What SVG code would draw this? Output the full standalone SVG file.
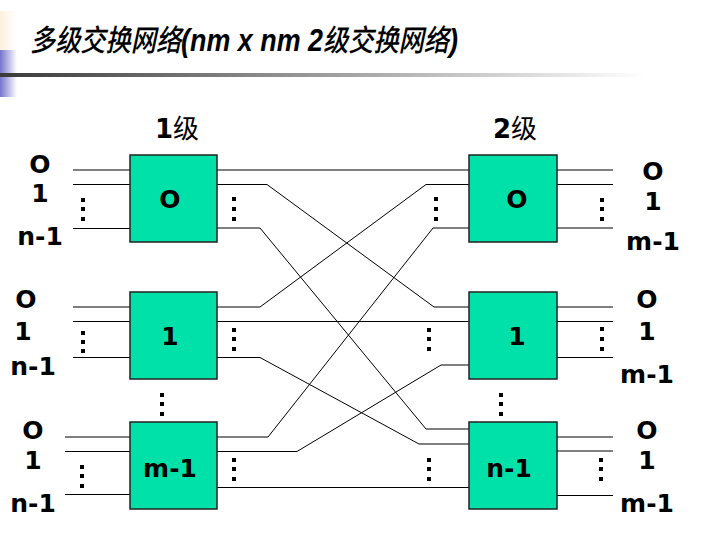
<svg xmlns="http://www.w3.org/2000/svg" width="702" height="533" viewBox="0 0 702 533">
<defs>
<linearGradient id="bar" x1="0" y1="0" x2="1" y2="0"><stop offset="0" stop-color="#3a3a3a"/><stop offset="0.45" stop-color="#9a9a9a"/><stop offset="0.92" stop-color="#ffffff"/></linearGradient>
<linearGradient id="blue" x1="0" y1="0" x2="1" y2="0"><stop offset="0" stop-color="#7474cc"/><stop offset="1" stop-color="#ffffff"/></linearGradient>
<linearGradient id="cream" x1="0" y1="0" x2="1" y2="0"><stop offset="0" stop-color="#fdf0dc"/><stop offset="1" stop-color="#ffffff"/></linearGradient>
</defs>
<style>
.box{fill:#00e1a9;stroke:#222;stroke-width:1.5}
.ln{fill:none;stroke:#000;stroke-width:1}
.lbl{font-family:"DejaVu Sans",Verdana,sans-serif;font-weight:bold;font-size:25px;fill:#000;text-anchor:middle}
.dot{fill:#000}
.cjk{font-family:"Noto Sans CJK SC",sans-serif}
.tc{font-family:"Noto Sans CJK SC",sans-serif;font-size:30px;font-weight:500}
.tl{font-family:"Liberation Sans",Arial,sans-serif;font-weight:bold;font-size:32px}
</style>
<rect width="702" height="533" fill="#fff"/>
<rect x="0" y="11" width="16" height="39" fill="url(#cream)"/>
<rect x="0" y="50" width="17" height="47" fill="url(#blue)"/>
<rect x="0" y="73" width="702" height="4" fill="url(#bar)"/>
<g id="title">
<text transform="translate(30,51) scale(0.84,1)" font-style="italic"><tspan class="tc">多级交换网络</tspan><tspan class="tl">(nm x nm 2</tspan><tspan class="tc">级交换网络</tspan><tspan class="tl">)</tspan></text>
</g>
<g id="stage-labels">
<text x="155" y="138" font-size="26"><tspan font-family="DejaVu Sans,sans-serif" font-weight="bold">1</tspan><tspan class="cjk">级</tspan></text>
<text x="493" y="138" font-size="26"><tspan font-family="DejaVu Sans,sans-serif" font-weight="bold">2</tspan><tspan class="cjk">级</tspan></text>
</g>
<g id="io-lines">
<path class="ln" d="M73,170H130M73,184.5H130M73,228.5H130M73,307H130M73,321.5H130M73,357.5H130M65,437H130M65,451.5H130M65,494.5H130"/>
<path class="ln" d="M557,170H613M557,184.5H613M557,228H613M557,307H613M557,321.5H613M557,357.5H613M557,437H613M557,451H613M557,495.5H613"/>
</g>
<g id="connectors">
<path class="ln" d="M217,170H469"/>
<path class="ln" d="M217,184.5H267L434,307H469"/>
<path class="ln" d="M217,228H260L426,429H469"/>
<path class="ln" d="M217,307H260L426,184.5H469"/>
<path class="ln" d="M217,321.5H469"/>
<path class="ln" d="M217,357.5H260L419,444H469"/>
<path class="ln" d="M217,437H268L433,228H469"/>
<path class="ln" d="M217,451.5H297L441,365H469"/>
<path class="ln" d="M217,487.5H469"/>
</g>
<g id="node-l0"><rect class="box" x="130" y="155" width="87" height="87"/><text class="lbl" x="170" y="208">O</text></g>
<g id="node-l1"><rect class="box" x="130" y="292" width="87" height="87"/><text class="lbl" x="170" y="345">1</text></g>
<g id="node-lm"><rect class="box" x="130" y="422" width="87" height="87"/><text class="lbl" x="170" y="477">m-1</text></g>
<g id="node-r0"><rect class="box" x="469" y="155" width="88" height="87"/><text class="lbl" x="517" y="208">O</text></g>
<g id="node-r1"><rect class="box" x="469" y="292" width="88" height="87"/><text class="lbl" x="517" y="345">1</text></g>
<g id="node-rn"><rect class="box" x="469" y="422" width="88" height="87"/><text class="lbl" x="509" y="477">n-1</text></g>
<g id="port-labels">
<text class="lbl" x="40" y="173">O</text><text class="lbl" x="40" y="202">1</text><text class="lbl" x="40" y="245">n-1</text>
<text class="lbl" x="26" y="308">O</text><text class="lbl" x="23" y="340">1</text><text class="lbl" x="33" y="375">n-1</text>
<text class="lbl" x="33" y="439">O</text><text class="lbl" x="33" y="469">1</text><text class="lbl" x="33" y="512">n-1</text>
<text class="lbl" x="653" y="180">O</text><text class="lbl" x="653" y="210">1</text><text class="lbl" x="653" y="250">m-1</text>
<text class="lbl" x="647" y="308">O</text><text class="lbl" x="647" y="340">1</text><text class="lbl" x="647" y="383">m-1</text>
<text class="lbl" x="647" y="439">O</text><text class="lbl" x="647" y="469">1</text><text class="lbl" x="647" y="512">m-1</text>
</g>
<g id="ellipses" class="dot">
<rect x="81" y="198" width="4" height="4"/><rect x="81" y="207" width="4" height="4"/><rect x="81" y="217" width="4" height="4"/>
<rect x="232" y="197" width="4" height="4"/><rect x="232" y="207" width="4" height="4"/><rect x="232" y="217" width="4" height="4"/>
<rect x="434" y="197" width="4" height="4"/><rect x="434" y="207" width="4" height="4"/><rect x="434" y="217" width="4" height="4"/>
<rect x="600" y="198" width="4" height="4"/><rect x="600" y="207" width="4" height="4"/><rect x="600" y="217" width="4" height="4"/>
<rect x="81" y="331" width="4" height="4"/><rect x="81" y="340" width="4" height="4"/><rect x="81" y="349" width="4" height="4"/>
<rect x="232" y="328" width="4" height="4"/><rect x="232" y="337" width="4" height="4"/><rect x="232" y="347" width="4" height="4"/>
<rect x="427" y="328" width="4" height="4"/><rect x="427" y="337" width="4" height="4"/><rect x="427" y="347" width="4" height="4"/>
<rect x="600" y="327" width="4" height="4"/><rect x="600" y="337" width="4" height="4"/><rect x="600" y="347" width="4" height="4"/>
<rect x="160" y="393" width="4" height="4"/><rect x="160" y="402" width="4" height="4"/><rect x="160" y="412" width="4" height="4"/>
<rect x="499" y="393" width="4" height="4"/><rect x="499" y="402" width="4" height="4"/><rect x="499" y="412" width="4" height="4"/>
<rect x="80" y="465" width="4" height="4"/><rect x="80" y="474" width="4" height="4"/><rect x="80" y="484" width="4" height="4"/>
<rect x="232" y="458" width="4" height="4"/><rect x="232" y="467" width="4" height="4"/><rect x="232" y="477" width="4" height="4"/>
<rect x="427" y="458" width="4" height="4"/><rect x="427" y="467" width="4" height="4"/><rect x="427" y="477" width="4" height="4"/>
<rect x="599" y="458" width="4" height="4"/><rect x="599" y="467" width="4" height="4"/><rect x="599" y="477" width="4" height="4"/>
</g>
</svg>
